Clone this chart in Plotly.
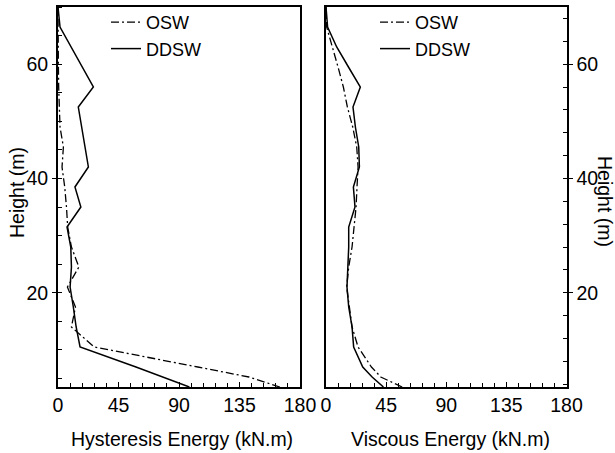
import plotly.graph_objects as go

# Storey heights (m)
heights = [3.5, 5.25, 7, 10.5, 14, 17.5, 21, 24.5, 28, 31.5, 35, 38.5, 42, 45.5,
           49, 52.5, 56, 59.5, 63, 66.5, 70]

# Hysteresis energy (kN.m)
hyst_osw = [165, 142, 104, 27, 10, 13, 7, 15.5, 10, 7.2, 6.3, 5, 3, 4,
            1.5, 0.8, 0.5, 0.3, 0.2, 0.1, 0]
hyst_ddsw = [97.7, 78, 58, 16.4, 13.5, 11.4, 9, 10, 9.5, 6.7, 17, 12.6, 22.6, 20.1,
             17.6, 15.1, 26.3, 17.9, 9.4, 1.5, 0]

# Viscous energy (kN.m)
visc_osw = [57, 41, 34, 24, 19.5, 17.5, 15.5, 17, 19.5, 21, 22.5, 23.2, 24, 23,
            20, 16, 13, 9, 4.5, 0.5, 0]
visc_ddsw = [43, 34.5, 27.5, 20.7, 19.5, 17, 15.7, 16.3, 17, 17, 21.7, 20.5, 25, 24.5,
             22, 20.2, 25.7, 16.8, 8, 1.2, 0]

x_ticks = [0, 45, 90, 135, 180]
y_ticks = [20, 40, 60]

FONT = "Arial, Liberation Sans, sans-serif"
FS = 19.5
DASHDOT = "8px,3px,2px,3px"

fig = go.Figure()
fig.add_trace(go.Scatter(x=hyst_osw, y=heights, mode="lines", name="OSW",
                         line=dict(color="black", width=1.3, dash=DASHDOT),
                         xaxis="x", yaxis="y", legend="legend"))
fig.add_trace(go.Scatter(x=hyst_ddsw, y=heights, mode="lines", name="DDSW",
                         line=dict(color="black", width=1.5),
                         xaxis="x", yaxis="y", legend="legend"))
fig.add_trace(go.Scatter(x=visc_osw, y=heights, mode="lines", name="OSW",
                         line=dict(color="black", width=1.3, dash=DASHDOT),
                         xaxis="x2", yaxis="y2", legend="legend2"))
fig.add_trace(go.Scatter(x=visc_ddsw, y=heights, mode="lines", name="DDSW",
                         line=dict(color="black", width=1.5),
                         xaxis="x2", yaxis="y2", legend="legend2"))

W, H = 615, 453
OFF = 0  # page body margin removed by post_script below


def px(sx):
    return (sx - OFF) / W


def py(sy):
    return 1 - (sy - OFF) / H


ydom = [py(387), py(7)]
xdom1 = [px(58), px(300)]
xdom2 = [px(326), px(566.5)]

common_x = dict(range=[0, 180], tickvals=x_ticks, ticks="inside", ticklen=5, tickwidth=1,
                tickcolor="black", showline=True, linewidth=2, linecolor="black",
                mirror=True, showgrid=False, zeroline=False, automargin=False,
                tickfont=dict(family=FONT, size=FS, color="black"),
                minor=dict(dtick=9, tick0=0, ticks="inside", ticklen=4, tickwidth=1,
                           tickcolor="black", showgrid=False))
common_y = dict(range=[3.5, 70], tickvals=y_ticks, ticks="outside", ticklen=4, tickwidth=1,
                tickcolor="black", showline=True, linewidth=2, linecolor="black",
                mirror=True, showgrid=False, zeroline=False, automargin=False,
                tickfont=dict(family=FONT, size=FS, color="black"))

fig.update_layout(
    width=W, height=H,
    margin=dict(l=0, r=0, t=0, b=0, autoexpand=False),
    paper_bgcolor="white", plot_bgcolor="white",
    font=dict(family=FONT, size=FS, color="black"),
    hovermode=False,
    xaxis=dict(domain=xdom1, anchor="y", **common_x),
    yaxis=dict(domain=ydom, anchor="x",
               minor=dict(dtick=5, tick0=0, ticks="inside", ticklen=4, tickwidth=1,
                          tickcolor="black", showgrid=False),
               **common_y),
    xaxis2=dict(domain=xdom2, anchor="y2", **common_x),
    yaxis2=dict(domain=ydom, anchor="x2", side="right",
                minor=dict(dtick=4, tick0=0, ticks="inside", ticklen=4, tickwidth=1,
                           tickcolor="black", showgrid=False),
                **common_y),
    yaxis3=dict(overlaying="y", anchor="x", range=[3.5, 70], tickvals=y_ticks,
                ticks="inside", ticklen=4, tickwidth=1, tickcolor="black",
                showticklabels=False, showline=False, showgrid=False, zeroline=False,
                automargin=False),
    yaxis4=dict(overlaying="y2", anchor="x2", side="right", range=[3.5, 70],
                tickvals=y_ticks, ticks="inside", ticklen=4, tickwidth=1,
                tickcolor="black", showticklabels=False, showline=False,
                showgrid=False, zeroline=False, automargin=False),
    legend=dict(x=px(106), y=py(4), xanchor="left", yanchor="top",
                bgcolor="rgba(0,0,0,0)", borderwidth=0, tracegroupgap=0,
                font=dict(family=FONT, size=18, color="black")),
    legend2=dict(x=px(375), y=py(4), xanchor="left", yanchor="top",
                 bgcolor="rgba(0,0,0,0)", borderwidth=0, tracegroupgap=0,
                 font=dict(family=FONT, size=18, color="black")),
    showlegend=True,
)

annos = [
    dict(text="Hysteresis Energy (kN.m)", x=px(181.5), y=py(439)),
    dict(text="Viscous Energy (kN.m)", x=px(451), y=py(439)),
    dict(text="Height (m)", x=px(17), y=py(193), textangle=-90),
    dict(text="Height (m)", x=px(605), y=py(201), textangle=90),
]
for a in annos:
    fig.add_annotation(xref="paper", yref="paper", showarrow=False,
                       xanchor="center", yanchor="middle",
                       font=dict(family=FONT, size=FS, color="black"), **a)

fig.write_html("out.html",
               config={"displayModeBar": False},
               post_script="document.body.style.margin='0';"
                           "document.body.style.overflow='hidden';")
